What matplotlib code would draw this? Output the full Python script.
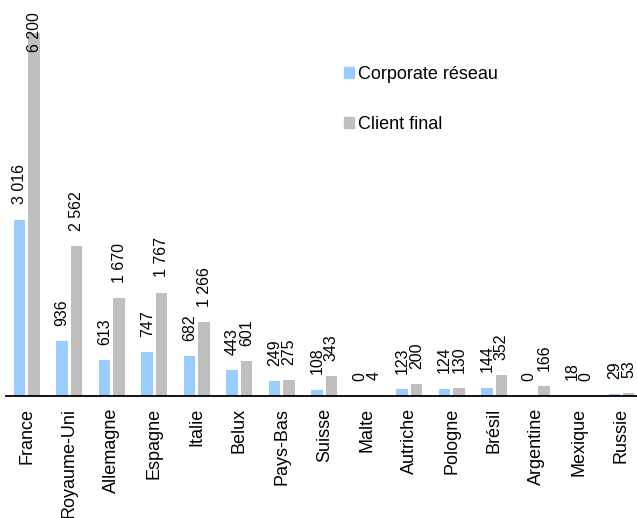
import matplotlib
matplotlib.use("Agg")
import matplotlib.pyplot as plt
from matplotlib.patches import Patch
import numpy as np

plt.rcParams["font.family"] = ["Liberation Sans", "DejaVu Sans"]

pays = ["France", "Royaume-Uni", "Allemagne", "Espagne", "Italie", "Belux",
        "Pays-Bas", "Suisse", "Malte", "Autriche", "Pologne", "Brésil",
        "Argentine", "Mexique", "Russie"]
corporate_reseau = [3016, 936, 613, 747, 682, 443, 249, 108, 0, 123, 124, 144, 0, 18, 29]
client_final = [6200, 2562, 1670, 1767, 1266, 601, 275, 343, 4, 200, 130, 352, 166, 0, 53]

c_blue = "#99CCFF"
c_gray = "#BFBFBF"

fig = plt.figure(figsize=(6.37, 5.18), dpi=100)
ax = fig.add_axes([0.009, 0.2355, 1.0, 0.7645])

x = np.arange(len(pays))
w = 0.27
off = 0.17
b1 = ax.bar(x - off, corporate_reseau, w, color=c_blue)
b2 = ax.bar(x + off, client_final, w, color=c_gray)

ymax = 6770


def fmt(v):
    return f"{v:,}".replace(",", " ")


for bars, vals in ((b1, corporate_reseau), (b2, client_final)):
    for r, v in zip(bars, vals):
        xc = r.get_x() + r.get_width() / 2
        if v > 0.85 * ymax:
            # label would leave the plot: pin it under the top edge, over the bar
            ax.annotate(fmt(v), (xc, 1.0), xycoords=("data", "axes fraction"),
                        xytext=(0, -8.5), textcoords="offset points",
                        rotation=90, ha="center", va="top", fontsize=11.5)
        else:
            ax.annotate(fmt(v), (xc, v),
                        xytext=(0, 11), textcoords="offset points",
                        rotation=90, ha="center", va="bottom", fontsize=11.5)

ax.set_xlim(-0.5, len(pays) - 0.5)
ax.set_ylim(0, ymax)
ax.set_xticks(x)
ax.set_xticklabels(pays, rotation=90, fontsize=13)
ax.tick_params(axis="x", length=0, pad=8.5)
ax.set_yticks([])
for s in ("top", "right", "left"):
    ax.spines[s].set_visible(False)
ax.spines["bottom"].set_linewidth(1.3)

handles = [Patch(color=c_blue, label="Corporate réseau"),
           Patch(color=c_gray, label="Client final")]
fig.legend(handles=handles, loc="upper left", bbox_to_anchor=(0.54, 0.872),
           frameon=False, fontsize=13, handlelength=0.55, handleheight=0.55,
           handletextpad=0.22, labelspacing=1.8, borderpad=0, borderaxespad=0)

fig.savefig("out.png", dpi=100)
